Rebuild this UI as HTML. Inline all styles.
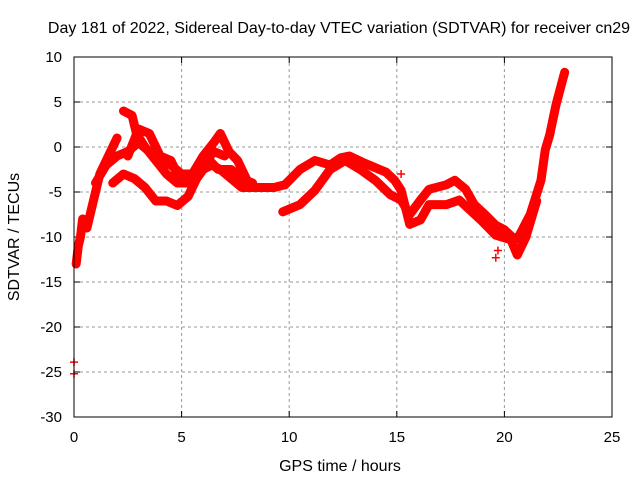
<!DOCTYPE html>
<html><head><meta charset="utf-8"><style>
body{margin:0;background:#fff}
svg{display:block;font-family:"Liberation Sans",sans-serif}
</style></head><body>
<svg id="chart" width="640" height="480">
<text x="339" y="33" font-size="16" text-anchor="middle">Day 181 of 2022, Sidereal Day-to-day VTEC variation (SDTVAR) for receiver cn29</text>
<text x="340" y="471" font-size="16" text-anchor="middle">GPS time / hours</text>
<text transform="translate(19,237) rotate(-90)" font-size="16" text-anchor="middle">SDTVAR / TECUs</text>
<g id="grid"></g>
<g id="ticks"></g>
<g id="series"></g>
<rect x="74" y="57" width="538" height="360" fill="none" stroke="#000" stroke-width="1"/>
</svg>
<script>
const xTicks=[0,5,10,15,20,25];
const yTicks=[10,5,0,-5,-10,-15,-20,-25,-30];
const trackA=[[0.1,-13],[0.2,-11],[0.3,-10],[0.4,-8],[0.6,-9],[0.8,-7],[1.0,-5],[1.2,-3],[1.4,-2],[1.6,-1],[1.8,0],[2.0,1]];
const trackB=[[2.3,4],[2.7,3.5],[2.9,1.5],[3.3,0],[3.8,-1.5],[4.3,-3],[4.8,-4],[5.3,-4],[5.7,-3.5],[6.0,-2.5],[6.4,-2],[6.8,-2.5],[7.3,-3.5],[7.8,-4.5],[8.5,-4.5],[9.3,-4.5],[9.8,-4.2]];
const trackC=[[1.0,-4],[1.5,-2],[2.0,-1],[2.5,-0.5],[3.0,0.5],[3.5,-0.5],[4.0,-1.5],[4.5,-2],[5.0,-3],[5.5,-3],[6.0,-1],[6.5,0.5],[6.8,1.5],[7.2,-0.5],[7.6,-1.5],[8.0,-3.5]];
const trackD=[[1.8,-4],[2.3,-3],[2.8,-3.5],[3.3,-4.5],[3.8,-6],[4.3,-6],[4.8,-6.5],[5.3,-5.5],[5.7,-3.5],[6.0,-2.5],[6.3,-1.5],[6.7,-2.5],[7.3,-2.5],[7.8,-3.5],[8.3,-4]];
const trackE=[[2.5,-1],[3.0,2],[3.5,1.5],[4.0,-1],[4.5,-1.5],[5.0,-4],[5.5,-4],[6.0,-2],[6.5,-0.5],[7.0,-1]];
const trackF=[[9.7,-7.2],[10.5,-6.4],[11.2,-4.8],[11.9,-2.5],[12.6,-1.5],[13.3,-2.5],[14.0,-3.7],[14.7,-5.3],[15.2,-5.9],[15.6,-7.5],[16.1,-5.9],[16.5,-4.7],[17.3,-4.2],[17.7,-3.7],[18.2,-4.7],[18.6,-6.4],[19.1,-7.5],[19.6,-8.7],[20.0,-9.2],[20.5,-10.3],[20.7,-9.8],[21.2,-7.5],[21.7,-3.7],[21.9,-0.3],[22.1,1.3],[22.4,4.7],[22.7,7.4],[22.8,8.3]];
const trackG=[[9.8,-4.2],[10.5,-2.5],[11.2,-1.5],[11.9,-2],[12.4,-1.2],[12.8,-1],[13.5,-1.8],[14.0,-2.3],[14.5,-2.8],[14.9,-3.7],[15.2,-4.8],[15.6,-8.6],[16.1,-8.1],[16.5,-6.4],[17.3,-6.4],[17.9,-5.9],[18.9,-8.1],[19.6,-9.8],[20.3,-10.3],[20.6,-12],[21.0,-10],[21.5,-6]];
const isolated=[[0.0,-23.9],[0.0,-25.2],[19.6,-12.3],[19.7,-11.5],[15.2,-3]];
const tracks=[trackA,trackB,trackC,trackD,trackE,trackF,trackG];
const NS="http://www.w3.org/2000/svg";
const xs=t=>74+t*538/25, ys=v=>57+(10-v)*9;
const grid=document.getElementById('grid'),ticks=document.getElementById('ticks'),ser=document.getElementById('series');
function mk(tag,attrs,parent){const e=document.createElementNS(NS,tag);for(const k in attrs)e.setAttribute(k,attrs[k]);parent.appendChild(e);return e;}
xTicks.forEach(t=>{const x=xs(t);
 if(t>0&&t<25){const g=mk('line',{x1:x,x2:x,y1:57,y2:417,stroke:'#999','stroke-dasharray':'3,3'},grid);
 
 }
 mk('line',{x1:x,x2:x,y1:417,y2:411,stroke:'#000'},ticks);mk('line',{x1:x,x2:x,y1:57,y2:63,stroke:'#000'},ticks);
 const l=mk('text',{x:x,y:442,'font-size':15,'text-anchor':'middle'},ticks);l.textContent=t;
 
 });
yTicks.forEach(v=>{const y=ys(v);
 if(v<10&&v>-30){const g=mk('line',{x1:74,x2:612,y1:y,y2:y,stroke:'#999','stroke-dasharray':'3,3'},grid);
 
 }
 mk('line',{x1:74,x2:80,y1:y,y2:y,stroke:'#000'},ticks);mk('line',{x1:606,x2:612,y1:y,y2:y,stroke:'#000'},ticks);
 const l=mk('text',{x:62,y:y+5,'font-size':15,'text-anchor':'end'},ticks);l.textContent=v;
 
 });
function plus(t,v){const x=xs(t),y=ys(v);const p=mk('path',{d:`M${x-4},${y}h8M${x},${y-4}v8`,stroke:'#f00','stroke-width':1.5},ser);
 
 }
tracks.forEach(tr=>{const pl=mk('polyline',{points:tr.map(p=>xs(p[0])+','+ys(p[1])).join(' '),fill:'none',stroke:'#f00','stroke-width':9,'stroke-linejoin':'round','stroke-linecap':'round'},ser);
 
 
 tr.forEach(p=>plus(p[0],p[1]));});
isolated.forEach(p=>plus(p[0],p[1]));
</script>
</body></html>
